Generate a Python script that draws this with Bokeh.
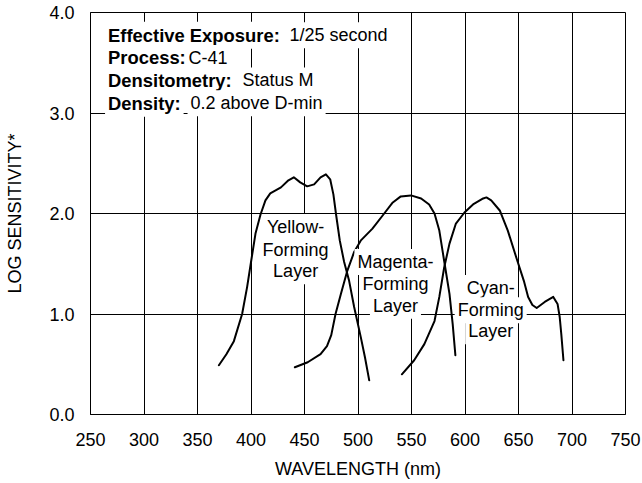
from bokeh.plotting import figure
from bokeh.models import Range1d, FixedTicker, NumeralTickFormatter, Label
from bokeh.embed import file_html
from bokeh.resources import INLINE

# ---- data ----
wavelength_ticks = [250, 300, 350, 400, 450, 500, 550, 600, 650, 700, 750]
sensitivity_ticks = [0, 1, 2, 3, 4]

yellow_nm = [370, 377, 384, 391.7, 396.4, 400.2, 404.2, 408.9, 413.5, 418, 423, 428, 435, 440,
             446, 452.5, 459, 465, 470, 474, 477, 479.5, 483, 487, 491.7, 496.4, 502.6, 506.5, 510.5]
yellow_v = [0.49, 0.60, 0.73, 1.00, 1.27, 1.53, 1.80, 1.99, 2.13, 2.20, 2.23, 2.26, 2.33, 2.36,
            2.31, 2.27, 2.29, 2.36, 2.39, 2.34, 2.19, 1.99, 1.73, 1.52, 1.33, 1.07, 0.77, 0.57, 0.34]

magenta_nm = [441, 453, 465, 471, 475, 479, 484, 490, 496.5, 502.5, 513.5, 524.5, 532.5, 540,
              549.5, 559, 566.5, 571.5, 576, 580.5, 585.5, 588.5, 591]
magenta_v = [0.47, 0.52, 0.60, 0.68, 0.79, 1.00, 1.20, 1.43, 1.62, 1.73, 1.85, 2.00, 2.11, 2.17,
             2.18, 2.15, 2.09, 2.00, 1.83, 1.53, 1.20, 0.90, 0.59]

cyan_nm = [541, 552.5, 562, 571.5, 576, 580.5, 585.5, 591.5, 599.5, 607.5, 617, 620, 624.5,
           632.5, 640, 648, 655, 659, 663, 667, 674.5, 682.5, 686.5, 688.5, 690, 692]
cyan_v = [0.40, 0.54, 0.70, 0.93, 1.17, 1.46, 1.70, 1.90, 2.01, 2.09, 2.15, 2.16, 2.13,
          2.03, 1.83, 1.56, 1.33, 1.17, 1.09, 1.06, 1.12, 1.17, 1.10, 0.97, 0.80, 0.54]

info_bold = ["Effective Exposure:", "Process:", "Densitometry:", "Density:"]
info_value = ["1/25 second", "C-41", "Status M", "0.2 above D-min"]

layer_names = [["Yellow-", "Forming", "Layer"],
               ["Magenta-", "Forming", "Layer"],
               ["Cyan-", "Forming", "Layer"]]

FONT = "Liberation Sans"
PAD = 3
PX_PER_NM = 1.07
PX_PER_UNIT = 100.5
SHIFT_Y = 7.5 / PX_PER_UNIT   # compensates label box offset
SHIFT_X = PAD / PX_PER_NM

p = figure(width=642, height=482, output_backend="svg", toolbar_location=None,
           x_range=Range1d(250, 750), y_range=Range1d(0, 4),
           min_border_left=90, min_border_right=17, min_border_top=12, min_border_bottom=68,
           background_fill_color="white", border_fill_color="white")

p.outline_line_color = "black"
p.outline_line_width = 1

for ax in (p.xaxis, p.yaxis):
    ax.major_tick_line_color = None
    ax.minor_tick_line_color = None
    ax.major_tick_out = 0
    ax.major_tick_in = 0
    ax.minor_tick_out = 0
    ax.minor_tick_in = 0
    ax.axis_line_color = "black"
    ax.axis_line_width = 1
    ax.major_label_text_font = FONT
    ax.major_label_text_font_size = "18px"
    ax.major_label_text_color = "black"
    ax.axis_label_text_font = FONT
    ax.axis_label_text_font_size = "18px"
    ax.axis_label_text_font_style = "normal"
    ax.axis_label_text_color = "black"

p.xaxis.ticker = FixedTicker(ticks=wavelength_ticks)
p.yaxis.ticker = FixedTicker(ticks=sensitivity_ticks)
p.yaxis.formatter = NumeralTickFormatter(format="0.0")
p.xaxis.axis_label = "WAVELENGTH (nm)"
p.yaxis.axis_label = "LOG SENSITIVITY*"
p.xaxis.major_label_standoff = 18
p.xaxis.axis_label_standoff = 10
p.yaxis.major_label_standoff = 16
p.yaxis.axis_label_standoff = 21

p.xgrid.ticker = FixedTicker(ticks=wavelength_ticks)
p.ygrid.ticker = FixedTicker(ticks=sensitivity_ticks)
for g in (p.xgrid, p.ygrid):
    g.grid_line_color = "black"
    g.grid_line_alpha = 1.0
    g.grid_line_width = 1

for xs, ys in ((yellow_nm, yellow_v), (magenta_nm, magenta_v), (cyan_nm, cyan_v)):
    p.line(x=xs, y=ys, line_color="black", line_width=2, line_join="round", line_cap="round")

# info block (top-left): text start positions (nm) and baselines (log units)
bold_x = 266.4
value_x = [436.0, 341.6, 392.1, 343.5]
base_y = [3.700, 3.473, 3.249, 3.022]
for b, v, vx, by in zip(info_bold, info_value, value_x, base_y):
    p.add_layout(Label(x=bold_x - SHIFT_X, y=by + SHIFT_Y, text=b, text_font=FONT,
                       text_font_size="18.4px", text_font_style="bold",
                       text_baseline="alphabetic", text_align="left",
                       text_color="black", background_fill_color="white", padding=PAD))
    p.add_layout(Label(x=vx - SHIFT_X, y=by + SHIFT_Y, text=v, text_font=FONT,
                       text_font_size="18px", text_baseline="alphabetic", text_align="left",
                       text_color="black", background_fill_color="white", padding=PAD))

# layer labels (centre x in nm, baselines in log units)
layer_x = [441.7, 535, 624]
layer_y = [[1.791, 1.565, 1.350], [1.443, 1.224, 1.008], [1.184, 0.962, 0.753]]
for names, lx, ly in zip(layer_names, layer_x, layer_y):
    for t, yy in zip(names, ly):
        p.add_layout(Label(x=lx, y=yy + SHIFT_Y, text=t, text_font=FONT, text_font_size="18px",
                           text_baseline="alphabetic", text_align="center",
                           text_color="black", background_fill_color="white", padding=PAD))

open("out.html", "w").write(file_html(p, INLINE))
